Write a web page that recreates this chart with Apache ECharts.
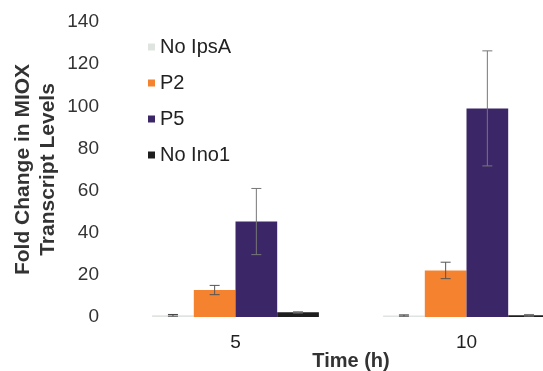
<!DOCTYPE html>
<html>
<head>
<meta charset="utf-8">
<script src="https://cdn.jsdelivr.net/npm/echarts@6/dist/echarts.min.js"></script>
<style>html,body{margin:0;padding:0;background:#fff}#c{width:543px;height:371px}</style>
</head>
<body>
<div id="c"></div>
<script>
const categories = ['5', '10'];
const seriesNames = ['No IpsA', 'P2', 'P5', 'No Ino1'];
const noIpsA = [0.8, 0.7];
const p2 = [12.8, 22.1];
const p5 = [45.3, 99.0];
const noIno1 = [2.2, 0.8];
const noIpsAErr = [0.4, 0.3];
const p2Err = [2.2, 3.9];
const p5Err = [15.7, 27.3];
const noIno1Err = [0.3, 0.4];
const yTicks = [0, 20, 40, 60, 80, 100, 120, 140];

const colors = ['#e0e4e0', '#f5822f', '#3b2767', '#1e1e1e'];
const values = [noIpsA, p2, p5, noIno1];
const errs = [noIpsAErr, p2Err, p5Err, noIno1Err];
const errColors = ['#444', '#555', '#777', '#777'];
const catGap = 0.278;

const chart = echarts.init(document.getElementById('c'));
const series = [];
values.forEach((v, i) => {
  series.push({
    name: seriesNames[i], type: 'bar', data: v,
    barGap: '0%', barCategoryGap: (catGap * 100) + '%',
    itemStyle: { color: colors[i] }
  });
});
values.forEach((v, i) => {
  series.push({
    type: 'custom', silent: true, z: 5,
    data: v.map((m, k) => [k, m - errs[i][k], m + errs[i][k]]),
    renderItem: function (params, api) {
      const k = api.value(0);
      const lo = api.coord([k, api.value(1)]);
      const hi = api.coord([k, api.value(2)]);
      const band = api.size([1, 0])[0];
      const bw = band * (1 - catGap) / 4;
      const x = lo[0] + (i - 1.5) * bw;
      const cap = 5;
      const st = { stroke: errColors[i], lineWidth: 1 };
      return { type: 'group', children: [
        { type: 'line', shape: { x1: x, y1: lo[1], x2: x, y2: hi[1] }, style: st },
        { type: 'line', shape: { x1: x - cap, y1: hi[1], x2: x + cap, y2: hi[1] }, style: st },
        { type: 'line', shape: { x1: x - cap, y1: lo[1], x2: x + cap, y2: lo[1] }, style: st }
      ]};
    }
  });
});

chart.setOption({
  animation: false,
  textStyle: { fontFamily: 'Liberation Sans, Arial, sans-serif' },
  legend: {
    data: seriesNames, orient: 'vertical', left: 143, top: 32,
    itemWidth: 7, itemHeight: 7, itemGap: 16, icon: 'rect',
    textStyle: { fontSize: 20, color: '#222', fontFamily: 'Liberation Sans, Arial, sans-serif' }
  },
  grid: { left: 120, top: 22, width: 462, height: 295, outerBoundsMode: 'none', containLabel: false },
  xAxis: {
    type: 'category', data: categories,
    axisLine: { show: false }, axisTick: { show: false },
    axisLabel: { fontSize: 19, color: '#222', margin: 16 },
    name: 'Time (h)', nameLocation: 'middle', nameGap: 34, nameMoveOverlap: false,
    nameTextStyle: { fontSize: 20, fontWeight: 'bold', color: '#333' }
  },
  yAxis: {
    type: 'value', min: 0, max: 140, interval: 20,
    axisLine: { show: false }, axisTick: { show: false }, splitLine: { show: false },
    axisLabel: { fontSize: 19, color: '#333', margin: 21,
      formatter: v => yTicks.includes(v) ? String(v) : '' },
    name: 'Fold Change in MIOX\nTranscript Levels', nameLocation: 'middle', nameRotate: 90, nameGap: 59, nameMoveOverlap: false,
    nameTextStyle: { fontSize: 21, fontWeight: 'bold', color: '#333', lineHeight: 25, align: 'center' }
  },
  series: series
});
</script>
</body>
</html>
